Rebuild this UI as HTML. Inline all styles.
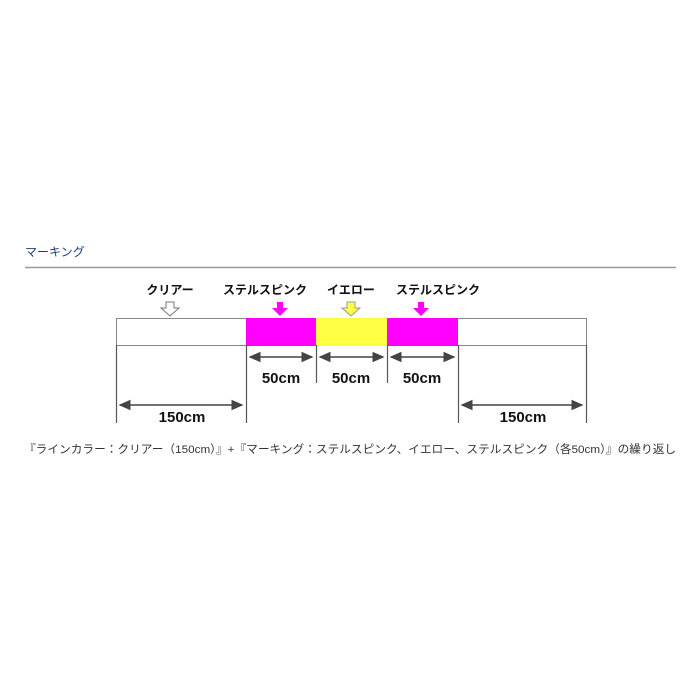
<!DOCTYPE html>
<html><head><meta charset="utf-8"><style>
body{margin:0;background:#fff;width:700px;height:700px;overflow:hidden;font-family:"Liberation Sans","Noto Sans CJK JP",sans-serif}
</style></head><body>
<svg width="700" height="700" xmlns="http://www.w3.org/2000/svg" style="position:absolute;left:0;top:0">
<defs>
<marker id="a" markerWidth="8" markerHeight="8" refX="7" refY="4" orient="auto-start-reverse"><path d="M0,0.5 L8,4 L0,7.5 Z" fill="#444"/></marker>
</defs>
<text x="25" y="256" font-size="12" fill="#1d3f73" font-family="Noto Sans CJK JP,sans-serif">マーキング</text>
<line x1="25" y1="267.5" x2="676" y2="267.5" stroke="#9a9a9a" stroke-width="1.5"/>
<g font-size="12" font-weight="bold" text-anchor="middle" fill="#111" font-family="Noto Sans CJK JP,sans-serif">
<text x="170" y="294">クリアー</text>
<text x="265" y="294">ステルスピンク</text>
<text x="351" y="294">イエロー</text>
<text x="438" y="294">ステルスピンク</text>
</g>
<path d="M166,302 h8 v6 h5 l-9,8 l-9,-8 h5 z" fill="#fff" stroke="#777"/>
<path d="M277,302 h6 v6 h5 l-8,8 l-8,-8 h5 z" fill="#ff00ff"/>
<path d="M347,302 h8 v6 h5 l-9,8 l-9,-8 h5 z" fill="#ffff44" stroke="#999"/>
<path d="M418,302 h6 v6 h5 l-8,8 l-8,-8 h5 z" fill="#ff00ff"/>
<rect x="116.5" y="318.5" width="470" height="27" fill="#fff" stroke="#888"/>
<rect x="246" y="318" width="70" height="28" fill="#ff00ff"/>
<rect x="316" y="318" width="71" height="28" fill="#ffff44"/>
<rect x="387" y="318" width="71" height="28" fill="#ff00ff"/>
<g stroke="#555" stroke-width="1.2">
<line x1="116.5" y1="345" x2="116.5" y2="423"/>
<line x1="246.5" y1="345" x2="246.5" y2="423"/>
<line x1="316.5" y1="345" x2="316.5" y2="383"/>
<line x1="387.5" y1="345" x2="387.5" y2="383"/>
<line x1="458.5" y1="345" x2="458.5" y2="423"/>
<line x1="586.5" y1="345" x2="586.5" y2="423"/>
</g>
<g stroke="#444" stroke-width="1.5" marker-start="url(#a)" marker-end="url(#a)">
<line x1="250" y1="357" x2="312" y2="357"/>
<line x1="320" y1="357" x2="383" y2="357"/>
<line x1="391" y1="357" x2="454" y2="357"/>
<line x1="120" y1="405" x2="242" y2="405"/>
<line x1="462" y1="405" x2="582" y2="405"/>
</g>
<g font-size="15" font-weight="bold" text-anchor="middle" fill="#111">
<text x="281" y="383">50cm</text>
<text x="351" y="383">50cm</text>
<text x="422" y="383">50cm</text>
<text x="182" y="422">150cm</text>
<text x="523" y="422">150cm</text>
</g>
<text x="24" y="453" font-size="11.3" fill="#333" textLength="652" lengthAdjust="spacingAndGlyphs" font-family="Liberation Sans,Noto Sans CJK JP,sans-serif">『ラインカラー：クリアー（150cm）』+『マーキング：ステルスピンク、イエロー、ステルスピンク（各50cm）』の繰り返し</text>
</svg>
</body></html>
